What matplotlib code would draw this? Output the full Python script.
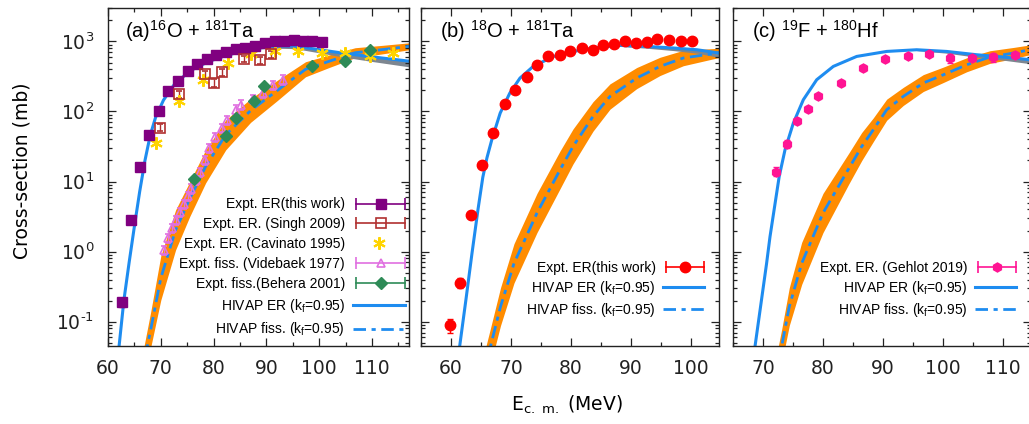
import matplotlib
matplotlib.use('Agg')
import matplotlib.pyplot as plt
from matplotlib.lines import Line2D
from matplotlib.legend_handler import HandlerBase
from matplotlib.ticker import MultipleLocator, LogLocator, NullFormatter, FuncFormatter
import numpy as np

plt.rcParams['font.family'] = 'DejaVu Sans'
plt.rcParams['mathtext.default'] = 'regular'
plt.rcParams['axes.unicode_minus'] = False

# ---------------- panel (a): 16O + 181Ta ----------------
a_er_E = [62.6, 64.3, 66.0, 67.7, 69.6, 71.4, 73.3, 75.1, 76.8, 78.7, 80.4, 82.3,
          84.2, 86.0, 87.9, 89.7, 91.6, 93.3, 95.2, 97.0, 98.7, 100.5]
a_er_s = [0.19, 2.8, 16, 46, 103, 197, 273, 379, 483, 569, 640, 705,
          770, 815, 858, 937, 1010, 1010, 1040, 1010, 1010, 978]
a_er_err = [0.03, 0.3, 1.5, 4, 8, 12, 15, 20, 25, 28, 30, 32,
            35, 38, 40, 42, 45, 45, 45, 45, 45, 45]

a_singh_E = [69.9, 73.5, 78.4, 80.0, 81.6, 85.7, 88.7, 90.8]
a_singh_s = [59, 175, 338, 257, 364, 566, 541, 652]
a_singh_err = [7, 20, 38, 30, 40, 60, 60, 70]

a_cav_E = [69.1, 73.5, 78.0, 82.7, 87.1, 91.7, 96.0, 100.5, 104.9, 109.6, 114.0]
a_cav_s = [36, 140, 280, 497, 652, 727, 727, 674, 674, 617, 674]

a_vid_E = [70.6, 71.3, 72.1, 72.8, 73.6, 74.3, 75.1, 75.8, 76.6, 77.4, 78.3,
           79.1, 80.2, 81.5, 82.5, 84.2, 85.1, 87.5, 89.4, 91.3, 93.2]
a_vid_s = [1.06, 1.57, 2.18, 2.84, 3.69, 4.8, 6.25, 7.9, 10.6, 13.8, 20.4,
           30, 43.5, 58.5, 76, 106, 125, 152, 185, 240, 284]

a_beh_E = [76.2, 82.3, 84.3, 87.7, 89.6, 98.7, 104.9, 109.6]
a_beh_s = [10.9, 44, 82, 139, 228, 440, 518, 743]
a_beh_err = [0.9, 3.5, 6, 10, 16, 30, 35, 50]

a_hiv_E = [62.1, 63.0, 64.0, 65.0, 66.0, 67.0, 68.0, 69.0, 70.5, 72.5, 75.5, 79.0,
           82.2, 85.3, 88.8, 92.0, 95.5, 100.5, 104.9, 109.9, 117.0]
a_hiv_s = [0.045, 0.2, 0.7, 2.3, 7.2, 20, 46, 82, 145, 240, 380, 515,
           625, 720, 810, 860, 857, 752, 674, 604, 523]
a_hivband_E = [88.8, 92.0, 95.5, 100.5, 104.9, 109.9, 117.0]
a_hivband_lo = [785, 800, 788, 677, 593, 519, 434]
a_hivband_hi = [830, 885, 880, 775, 695, 622, 540]

a_fis_E = [66.0, 66.8, 68.1, 70.0, 72.8, 75.5, 78.5, 82.3, 87.0, 92.0, 97.4,
           102.0, 106.8, 112.0, 117.0]
a_fis_lo = [0.008, 0.015, 0.0436, 0.204, 1.06, 3.2, 9.6, 28.4, 70, 142, 313,
            428, 585, 665, 760]
a_fis_hi = [0.02, 0.044, 0.14, 0.87, 3.94, 10, 28.4, 76, 152, 277, 513,
            645, 813, 880, 955]
a_fis_c = [0.013, 0.026, 0.078, 0.42, 2.04, 5.7, 16.5, 46.5, 103, 198, 400,
           525, 690, 765, 850]

# ---------------- panel (b): 18O + 181Ta ----------------
b_er_E = [59.8, 61.5, 63.3, 65.1, 67.05, 69.0, 70.7, 72.6, 74.3, 76.2, 78.1, 79.8,
          81.8, 83.6, 85.4, 87.2, 89.0, 90.8, 92.6, 94.4, 96.4, 98.3, 100.1]
b_er_s = [0.09, 0.36, 3.3, 17, 50, 128, 204, 310, 464, 625, 646, 720,
          806, 761, 897, 927, 1000, 949, 968, 1080, 1033, 1000, 1000]
b_er_err = [0.02, 0.06, 0.3, 1.2, 3, 7, 10, 15, 20, 25, 25, 30,
            30, 30, 35, 35, 40, 40, 40, 45, 45, 40, 40]

b_hiv_E = [61.45, 62.5, 63.5, 64.5, 65.3, 66.0, 66.8, 68.2, 69.8, 71.5, 73.7,
           77.1, 80.4, 84.3, 88.2, 92.6, 97.1, 101.0, 104.7]
b_hiv_s = [0.045, 0.21, 0.95, 4.0, 11.5, 22, 39.5, 95, 183, 300, 440,
           611, 720, 820, 877, 849, 806, 761, 682]
b_hivband_E = [88.2, 92.6, 97.1, 101.0, 104.7]
b_hivband_lo = [850, 800, 740, 680, 590]
b_hivband_hi = [890, 870, 830, 785, 705]

b_fis_E = [65.8, 66.6, 68.25, 70.5, 74.33, 78.17, 80.33, 83.67, 86.5, 90.95,
           94.83, 98.72, 104.7]
b_fis_lo = [0.013, 0.0247, 0.088, 0.357, 1.87, 7.9, 17.8, 52.4, 108, 212,
            326, 450, 590]
b_fis_hi = [0.044, 0.082, 0.305, 1.30, 6.78, 27.3, 56.2, 138, 248, 424,
            594, 747, 800]
b_fis_c = [0.024, 0.045, 0.164, 0.68, 3.56, 14.7, 31.6, 85, 164, 300,
           440, 580, 690]

# ---------------- panel (c): 19F + 180Hf ----------------
c_er_E = [72.17, 73.95, 75.6, 77.55, 79.2, 83.0, 86.7, 90.3, 94.1, 97.7,
          101.2, 104.8, 108.4, 112.0]
c_er_s = [13.9, 34.6, 74, 108, 164, 255, 417, 561, 625, 661,
          580, 580, 599, 646]
c_er_err = [2, 4, 8, 10, 15, 25, 40, 50, 50, 50, 90, 50, 90, 50]

c_hiv_E = [68.5, 70.6, 71.17, 72.7, 73.67, 75.05, 76.72, 78.95, 81.72, 85.62,
           90.62, 95.62, 100.6, 105.6, 110.05, 114.6]
c_hiv_s = [0.035, 0.68, 1.64, 11.8, 28.4, 68, 147, 284, 440, 611,
           720, 761, 720, 646, 599, 548]
c_hivband_E = [95.62, 100.6, 105.6, 110.05, 114.6]
c_hivband_lo = [740, 680, 595, 540, 480]
c_hivband_hi = [785, 745, 670, 620, 570]

c_fis_E = [72.3, 73.12, 74.38, 76.45, 80.0, 84.33, 86.45, 88.38, 90.62, 93.38,
           96.72, 100.05, 103.95, 107.83, 111.72, 114.6]
c_fis_lo = [0.011, 0.0259, 0.0881, 0.341, 1.87, 9.34, 19.9, 37.1, 75, 122,
            193, 259, 369, 487, 567, 650]
c_fis_hi = [0.035, 0.0782, 0.305, 1.357, 6.78, 25.7, 50.1, 81, 150, 221,
            336, 430, 584, 737, 820, 895]
c_fis_c = [0.02, 0.045, 0.164, 0.68, 3.56, 15.5, 31.6, 54.8, 106, 164,
           255, 334, 464, 599, 682, 765]

BLUE = '#1e8cf0'
ORANGE = '#ff8c00'
GREY = '#7d8690'
LEGFONT = {'family': 'Liberation Sans', 'size': 10}
LABFONT = {'family': 'Liberation Sans', 'size': 14.5}


class HandlerHBar(HandlerBase):
    # gnuplot-like key sample: horizontal bar with caps and the point in the middle
    def create_artists(self, legend, orig, xd, yd, w, h, fs, trans):
        y = h / 2 - yd
        x0, x1 = -xd + 2, -xd + w
        c = orig.get_markeredgecolor()
        bar = Line2D([x0, x1], [y, y], color=c, lw=1.2)
        caps = Line2D([x0, x1], [y, y], ls='none', marker='|', ms=8, mew=1.2, color=c)
        pt = Line2D([(x0 + x1) / 2], [y], ls='none', marker=orig.get_marker(),
                    ms=orig.get_markersize(), mfc=orig.get_markerfacecolor(),
                    mec=c, mew=orig.get_markeredgewidth())
        for art in (bar, caps, pt):
            art.set_transform(trans)
        return [bar, caps, pt]


def pow10(v, pos):
    # gnuplot style label: 10^-1 with a plain hyphen
    e = int(round(np.log10(v)))
    if e < 0:
        return r'10$^{\text{-}%d}$' % (-e)
    return r'10$^{%d}$' % e


def theory(ax, hE, hs, bE, blo, bhi, fE, flo, fhi, fc):
    ax.fill_between(fE, flo, fhi, color=ORANGE, lw=0, zorder=1)
    ax.plot(fE, fc, color=BLUE, lw=2.0, dashes=(4.5, 2, 1.5, 2), zorder=2)
    ax.fill_between(bE, blo, bhi, color=GREY, lw=0, zorder=1.5)
    ax.plot(hE, hs, color=BLUE, lw=2.2, zorder=2)
    er = Line2D([], [], color=BLUE, lw=2.2)
    fi = Line2D([], [], color=BLUE, lw=2.0, dashes=(4.5, 2, 1.5, 2))
    return er, fi


def setup(ax, xlim, first):
    ax.set_yscale('log')
    ax.set_ylim(0.045, 3000)
    ax.set_xlim(*xlim)
    ax.xaxis.set_major_locator(MultipleLocator(10))
    ax.xaxis.set_minor_locator(MultipleLocator(5))
    ax.yaxis.set_major_locator(LogLocator(base=10))
    ax.yaxis.set_minor_locator(LogLocator(base=10, subs=range(2, 10)))
    ax.yaxis.set_major_formatter(FuncFormatter(pow10))
    ax.yaxis.set_minor_formatter(NullFormatter())
    ax.tick_params(which='both', direction='in', top=True, right=True,
                   labelsize=13.5, width=0.9, colors='#222222')
    ax.tick_params(which='major', length=6)
    ax.tick_params(which='minor', length=3)
    ax.tick_params(axis='x', pad=9)
    ax.tick_params(axis='y', pad=10)
    if not first:
        ax.tick_params(axis='y', labelleft=False)
    for sp in ax.spines.values():
        sp.set_linewidth(1.0)
        sp.set_color('#222222')


fig = plt.figure(figsize=(10.29, 4.24), dpi=100)
axa = fig.add_axes([0.10496, 0.18396, 0.29252, 0.79717])
axb = fig.add_axes([0.40914, 0.18396, 0.2896, 0.79717])
axc = fig.add_axes([0.71234, 0.18396, 0.2896, 0.79717])

# (a)
er_a, fi_a = theory(axa, a_hiv_E, a_hiv_s, a_hivband_E, a_hivband_lo, a_hivband_hi,
                    a_fis_E, a_fis_lo, a_fis_hi, a_fis_c)
axa.errorbar(a_er_E, a_er_s, yerr=a_er_err, fmt='s', color='#800080', ms=6.5,
             capsize=2, elinewidth=1, zorder=4)
axa.errorbar(a_singh_E, a_singh_s, yerr=a_singh_err, fmt='s', color='#b03030',
             mfc='none', ms=6.5, mew=1.2, capsize=2, elinewidth=1, zorder=4)
axa.plot(a_cav_E, a_cav_s, ls='none', marker=(6, 2, 0), color='#ffd400', ms=9,
         mew=1.5, zorder=4)
axa.errorbar(a_vid_E, a_vid_s, yerr=[v * 0.15 for v in a_vid_s], fmt='^',
             color='#e070e0', mfc='none', ms=6, mew=1.2, capsize=2, elinewidth=1, zorder=4)
axa.errorbar(a_beh_E, a_beh_s, yerr=a_beh_err, fmt='D', color='#2e8b57', ms=6,
             capsize=2, elinewidth=1, zorder=4)
setup(axa, (60, 117), True)

h_a = [Line2D([], [], marker='s', color='#800080', ms=6.5, ls='none'),
       Line2D([], [], marker='s', color='#b03030', mfc='none', mec='#b03030', ms=6.5, mew=1.2, ls='none'),
       Line2D([], [], marker=(6, 2, 0), color='#ffd400', mec='#ffd400', ms=9, mew=1.5, ls='none'),
       Line2D([], [], marker='^', color='#e070e0', mfc='none', mec='#e070e0', ms=6, mew=1.2, ls='none'),
       Line2D([], [], marker='D', color='#2e8b57', mec='#2e8b57', ms=6, ls='none'),
       er_a, fi_a]
lab_a = ['Expt. ER(this work)', 'Expt. ER. (Singh 2009)', 'Expt. ER. (Cavinato 1995)',
         'Expt. fiss. (Videbaek 1977)', 'Expt. fiss.(Behera 2001)',
         'HIVAP ER (k$_f$=0.95)', 'HIVAP fiss. (k$_f$=0.95)']
hm_a = {h_a[0]: HandlerHBar(), h_a[1]: HandlerHBar(), h_a[3]: HandlerHBar(),
        h_a[4]: HandlerHBar()}
axa.legend(h_a, lab_a, handler_map=hm_a, loc='lower right', bbox_to_anchor=(1.0, 0.01),
           frameon=False, markerfirst=False, prop=LEGFONT, handlelength=3.7,
           handletextpad=0.6, labelspacing=0.42, borderpad=0.3, borderaxespad=0)
axa.text(0.056, 0.911, '(a)$^{16}$O + $^{181}$Ta', transform=axa.transAxes,
         va='baseline', fontdict=LABFONT)

# (b)
er_b, fi_b = theory(axb, b_hiv_E, b_hiv_s, b_hivband_E, b_hivband_lo, b_hivband_hi,
                    b_fis_E, b_fis_lo, b_fis_hi, b_fis_c)
axb.errorbar(b_er_E, b_er_s, yerr=b_er_err, fmt='o', color='#ff0000', ms=7.5,
             capsize=2, elinewidth=1, zorder=4)
setup(axb, (55, 104.67), False)
h_b = [Line2D([], [], marker='o', color='#ff0000', mec='#ff0000', ms=7.5, ls='none'), er_b, fi_b]
axb.legend(h_b, ['Expt. ER(this work)', 'HIVAP ER (k$_f$=0.95)', 'HIVAP fiss. (k$_f$=0.95)'],
           handler_map={h_b[0]: HandlerHBar()}, loc='lower right',
           bbox_to_anchor=(0.965, 0.068), frameon=False, markerfirst=False, prop=LEGFONT,
           handlelength=3.0, handletextpad=0.5, labelspacing=0.3, borderpad=0.3,
           borderaxespad=0)
axb.text(0.064, 0.911, '(b) $^{18}$O + $^{181}$Ta', transform=axb.transAxes,
         va='baseline', fontdict=LABFONT)

# (c)
er_c, fi_c = theory(axc, c_hiv_E, c_hiv_s, c_hivband_E, c_hivband_lo, c_hivband_hi,
                    c_fis_E, c_fis_lo, c_fis_hi, c_fis_c)
axc.errorbar(c_er_E, c_er_s, yerr=c_er_err, fmt='h', color='#ff1493', ms=6.5,
             capsize=2, elinewidth=1, zorder=4)
setup(axc, (65, 114.67), False)
h_c = [Line2D([], [], marker='h', color='#ff1493', mec='#ff1493', ms=6.5, ls='none'), er_c, fi_c]
axc.legend(h_c, ['Expt. ER. (Gehlot 2019)', 'HIVAP ER (k$_f$=0.95)', 'HIVAP fiss. (k$_f$=0.95)'],
           handler_map={h_c[0]: HandlerHBar()}, loc='lower right',
           bbox_to_anchor=(0.965, 0.068), frameon=False, markerfirst=False, prop=LEGFONT,
           handlelength=3.0, handletextpad=0.5, labelspacing=0.3, borderpad=0.3,
           borderaxespad=0)
axc.text(0.064, 0.911, '(c) $^{19}$F + $^{180}$Hf', transform=axc.transAxes,
         va='baseline', fontdict=LABFONT)

fig.text(0.0214, 0.597, 'Cross-section (mb)', rotation=90, ha='center', va='center',
         fontsize=13.5)
fig.text(0.551, 0.045, 'E$_{c.\\ m.}$ (MeV)', ha='center', va='center', fontsize=13.5)

fig.savefig('out.png', dpi=100)
